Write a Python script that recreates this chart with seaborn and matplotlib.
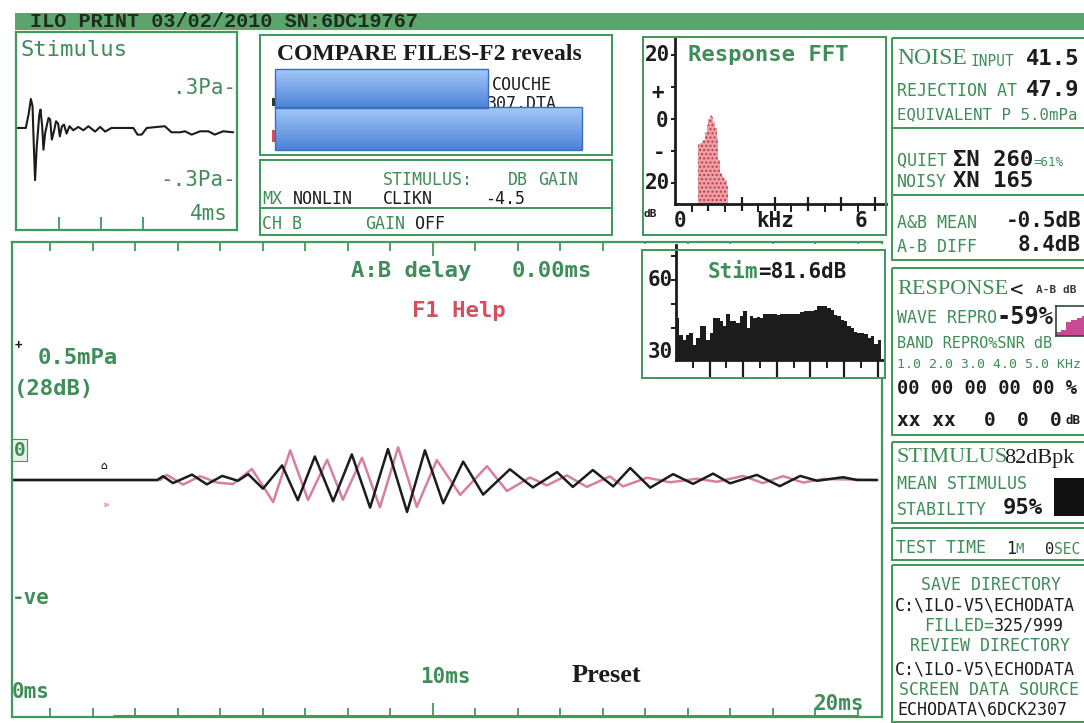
import matplotlib
matplotlib.use("Agg")
import matplotlib.pyplot as plt
import numpy as np
import pandas as pd
import seaborn as sns
from matplotlib.patches import Rectangle
from matplotlib.colors import LinearSegmentedColormap

# ---------------- data ----------------
# stimulus click waveform (ms, Pa)
stim_ms = [0.00, 0.21, 0.28, 0.33, 0.37, 0.39, 0.43, 0.47, 0.53, 0.56,
           0.60, 0.63, 0.67, 0.75, 0.79, 0.83, 0.88, 0.93, 0.98, 1.02,
           1.07, 1.12, 1.18, 1.25, 1.34, 1.46, 1.58, 1.70, 1.86, 1.98,
           2.10, 2.25, 2.77, 2.87, 2.97, 3.09, 3.52, 3.68, 3.88, 4.00,
           4.16, 4.36, 4.56, 4.71, 4.91, 5.15]
stim_pa = [0.0, 0.0, 0.10, 0.20, 0.15, -0.035, -0.36, -0.13, 0.09, 0.127,
           0.01, -0.15, -0.035, 0.069, 0.058, -0.08, -0.023, 0.046, 0.03, -0.058,
           0.012, 0.023, -0.039, 0.012, -0.016, 0.007, -0.016, 0.012, -0.025, 0.007,
           -0.025, 0.0, 0.0, -0.046, -0.046, 0.0, 0.012, -0.03, -0.03, -0.023,
           -0.046, -0.023, -0.023, -0.046, -0.023, -0.03]

# response waveform A (black) (ms, mPa)
resp_a_ms = [0.10, 3.51, 3.65, 3.88, 4.33, 4.68, 5.04, 5.41, 5.65, 6.00,
             6.45, 6.82, 7.22, 7.65, 8.09, 8.52, 8.94, 9.39, 9.81, 10.24,
             10.71, 11.18, 11.81, 12.35, 12.92, 13.29, 13.76, 14.24, 14.64, 15.11,
             15.65, 16.12, 16.59, 16.99, 17.62, 18.16, 18.64, 19.04, 19.65, 19.98,
             20.45]
resp_a_mpa = [0, 0, 0.015, -0.012, 0.021, -0.017, 0.016, -0.003, 0.023, -0.034,
              0.057, -0.079, 0.092, -0.083, 0.100, -0.108, 0.121, -0.125, 0.116, -0.091,
              0.072, -0.057, 0.042, -0.029, 0.031, -0.027, 0.039, -0.025, 0.047, -0.030,
              0.023, -0.015, 0.025, -0.013, 0.020, -0.024, 0.016, -0.003, 0.011, 0,
              0]

# response waveform B (pink) (ms, mPa)
resp_b_ms = [0.10, 3.58, 3.74, 4.12, 4.52, 4.92, 5.29, 5.74, 6.24, 6.64,
             7.06, 7.51, 7.88, 8.33, 8.75, 9.18, 9.62, 10.09, 10.64, 11.27,
             11.74, 12.28, 12.68, 13.15, 13.62, 14.16, 14.47, 15.04, 15.58, 16.21,
             16.68, 17.29, 17.76, 18.24, 18.71, 19.18, 20.45]
resp_b_mpa = [0, 0, 0.020, -0.018, 0.015, -0.010, -0.016, 0.043, -0.086, 0.116,
              -0.078, 0.079, -0.077, 0.087, -0.107, 0.128, -0.105, 0.078, -0.058, 0.054,
              -0.043, 0.010, -0.021, 0.018, -0.027, 0.014, -0.025, 0.009, -0.009, 0.005,
              -0.007, 0.016, -0.012, 0.015, -0.010, 0.004, 0]

# response FFT (bin left edge kHz, dB)
fft_khz = [0.70, 0.75, 0.80, 0.85, 0.90, 0.95, 1.00, 1.05, 1.10,
           1.15, 1.20, 1.25, 1.30, 1.35, 1.40, 1.45, 1.50, 1.55]
fft_db = [-8, -7.5, -7, -6.5, -4, -2, 0, 1.2, 0.5,
          -1, -3, -6, -13, -17, -18, -18.5, -19, -21]

# stimulus spectrum (bin left edge kHz, dB)
stimspec_khz = [0.0, 0.1, 0.2, 0.3, 0.4, 0.5, 0.6, 0.7, 0.8, 0.9,
                1.0, 1.1, 1.2, 1.3, 1.4, 1.5, 1.6, 1.7, 1.8, 1.9,
                2.0, 2.1, 2.2, 2.3, 2.4, 2.5, 2.6, 2.7, 2.8, 2.9,
                3.0, 3.1, 3.2, 3.3, 3.4, 3.5, 3.6, 3.7, 3.8, 3.9,
                4.0, 4.1, 4.2, 4.3, 4.4, 4.5, 4.6, 4.7, 4.8, 4.9,
                5.0, 5.1, 5.2, 5.3, 5.4, 5.5, 5.6, 5.7, 5.8, 5.9,
                6.0]
stimspec_db = [44, 37, 35, 37, 38, 33, 36, 41, 41, 35,
               38, 44, 44, 43, 41, 46, 43, 43, 42, 45,
               47, 40, 45, 44, 44.5, 44, 46, 46, 46, 46,
               45.5, 46, 46, 46, 46, 46, 46, 46.5, 47, 47,
               47, 47.5, 49, 49, 49, 48.5, 47.5, 45.5, 45, 43.5,
               43, 41, 40, 38.5, 38, 38, 37.5, 36, 36.5, 33.5,
               35]

# small wave-repro band chart
repro_band = [1, 2, 3, 4, 5, 6, 7]
repro_pct = [15, 21, 47, 53, 60, 68, 74]

# ---------------- styling ----------------
sns.set_theme(style="white")
plt.rcParams['font.family'] = ['DejaVu Sans Mono', 'DejaVu Sans']

GREEN = '#3f9a5c'
GTXT = '#3f8d58'
BLACK = '#1c1c1c'
PINK = '#d67fa3'
RED = '#d2505c'
MAG = '#c84a96'
MONO = ['DejaVu Sans Mono', 'DejaVu Sans']
SERIF = ['Liberation Serif', 'DejaVu Serif']
PT = 0.72  # points per pixel at 100 dpi

W, H = 1084, 723
fig = plt.figure(figsize=(W / 100, H / 100), dpi=100, facecolor='white')


def add_ax(x0, y0, x1, y1, z):
    ax = fig.add_axes([x0 / W, 1 - y1 / H, (x1 - x0) / W, (y1 - y0) / H])
    ax.set_zorder(z)
    return ax


def clean(ax):
    ax.set_xlabel('')
    ax.set_ylabel('')


# ---------------- main waveform panel ----------------
axm = add_ax(12, 242, 882, 717, 1)
df_a = pd.DataFrame({'ms': resp_a_ms, 'mPa': resp_a_mpa})
df_b = pd.DataFrame({'ms': resp_b_ms, 'mPa': resp_b_mpa})
sns.lineplot(data=df_b, x='ms', y='mPa', ax=axm, color=PINK, lw=1.8,
             estimator=None, sort=False, solid_joinstyle='round')
sns.lineplot(data=df_a, x='ms', y='mPa', ax=axm, color=BLACK, lw=1.8,
             estimator=None, sort=False, solid_joinstyle='round')
axm.set_xlim((12 - 8) / 42.5, (882 - 8) / 42.5)
axm.set_ylim(-0.926, 0.930)
clean(axm)
axm.set_yticks([])
axm.set_xticks([10])
axm.set_xticks([t for t in range(1, 21) if t != 10], minor=True)
axm.set_xticklabels([])
axm.tick_params(axis='x', which='both', direction='in', top=True, bottom=True,
                color=GREEN, width=1.3, labelbottom=False, labeltop=False)
axm.tick_params(axis='x', which='major', length=14 * PT)
axm.tick_params(axis='x', which='minor', length=9 * PT)
for s in axm.spines.values():
    s.set_color(GREEN)
    s.set_linewidth(1.6)

# ---------------- stimulus panel ----------------
axs = add_ax(16, 32, 237, 230, 1)
sns.lineplot(x=stim_ms, y=stim_pa, ax=axs, color=BLACK, lw=1.5,
             estimator=None, sort=False)
axs.set_xlim(-0.024, 5.24)
axs.set_ylim(-0.704, 0.662)
clean(axs)
axs.set_yticks([])
axs.set_xticks([1, 2, 3])
axs.set_xticklabels([])
axs.tick_params(axis='x', direction='in', length=13 * PT, width=1.3, color=GREEN,
                bottom=True, labelbottom=False)
for s in axs.spines.values():
    s.set_color(GREEN)
    s.set_linewidth(1.6)

# ---------------- response FFT ----------------
axf = add_ax(675, 37, 886, 204, 1)
axf.patch.set_alpha(0)
axf.bar(fft_khz, [d - (-26.6) for d in fft_db], bottom=-26.6, width=0.05,
        align='edge', color='#eba0a6', edgecolor='#c23a4b', hatch='....', lw=0)
axf.set_xlim(0, 6.34)
axf.set_ylim(-26.6, 25.6)
clean(axf)
axf.set_xticks([1, 2, 3, 4, 5, 6])
axf.set_xticks([0.5, 1.5, 2.5, 3.5, 4.5, 5.5], minor=True)
axf.set_yticks([-20, -10, 0, 10, 20])
axf.set_xticklabels([])
axf.set_yticklabels([])
axf.tick_params(axis='x', which='major', direction='inout', length=14 * PT, width=1.6,
                color=BLACK, bottom=True)
axf.tick_params(axis='x', which='minor', direction='out', length=8 * PT, width=1.4,
                color=BLACK, bottom=True)
axf.tick_params(axis='y', direction='out', length=4 * PT, width=1.4, color=BLACK, left=True)
for k in ['top', 'right']:
    axf.spines[k].set_visible(False)
for k in ['left', 'bottom']:
    axf.spines[k].set_color(BLACK)
    axf.spines[k].set_linewidth(2)

# ---------------- stimulus spectrum ----------------
axbg = add_ax(642, 244, 886, 378, 5)
axbg.set_facecolor('white')
axbg.set_xticks([])
axbg.set_yticks([])
for s in axbg.spines.values():
    s.set_visible(False)

axsp = add_ax(676, 245, 883, 360, 6)
axsp.patch.set_alpha(0)
axsp.bar(stimspec_khz, [d - 26.7 for d in stimspec_db], bottom=26.7, width=0.1,
         align='edge', color=BLACK, lw=0)
axsp.set_xlim(0, 6.16)
axsp.set_ylim(26.7, 74.6)
clean(axsp)
axsp.set_xticks([1, 2, 3, 4, 5, 6])
axsp.set_xticks([0.5, 1.5, 2.5, 3.5, 4.5, 5.5], minor=True)
axsp.set_yticks([40, 50, 60, 70])
axsp.set_xticklabels([])
axsp.set_yticklabels([])
axsp.tick_params(axis='x', which='major', direction='out', length=18 * PT, width=1.6,
                 color=BLACK, bottom=True)
axsp.tick_params(axis='x', which='minor', direction='out', length=8 * PT, width=1.4,
                 color=BLACK, bottom=True)
axsp.tick_params(axis='y', direction='out', length=5 * PT, width=1.4, color=BLACK, left=True)
for k in ['top', 'right']:
    axsp.spines[k].set_visible(False)
for k in ['left', 'bottom']:
    axsp.spines[k].set_color(BLACK)
    axsp.spines[k].set_linewidth(2)

# ---------------- mini wave-repro chart ----------------
axr = add_ax(1056, 306, 1092, 336, 1)
axr.bar(repro_band, repro_pct, width=1.0, align='edge', color=MAG, lw=0)
axr.set_xlim(1, 8)
axr.set_ylim(0, 100)
clean(axr)
axr.set_xticks([])
axr.set_yticks([])
for s in axr.spines.values():
    s.set_color('#2e4a36')
    s.set_linewidth(1.2)

# ---------------- overlay: frames and texts ----------------
ov = add_ax(0, 0, W, H, 20)
ov.patch.set_alpha(0)
ov.axis('off')


def box(x0, y0, x1, y1, lw=2.0, color=GREEN, z=2):
    ov.add_patch(Rectangle((x0, y0), x1 - x0, y1 - y0, fill=False, ec=color,
                           lw=lw * PT, zorder=z))


def hline(x0, x1, y, lw=2.0, color=GREEN):
    ov.plot([x0, x1], [y, y], color=color, lw=lw * PT, solid_capstyle='butt', zorder=2)


def T(x, y, s, color=GTXT, size=12, weight='normal', family=MONO, ha='left',
      va='center', z=5, **kw):
    ov.text(x, y, s, color=color, fontsize=size, fontweight=weight, fontfamily=family,
            ha=ha, va=va, zorder=z, **kw)


# header bar
ov.add_patch(Rectangle((15, 13), 1090 - 15, 17, fc='#5ba56c', ec='none', zorder=1))
T(30, 21.5, 'ILO PRINT 03/02/2010 SN:6DC19767', color='#1e2b1f', size=14.5,
  weight='bold', family=['Liberation Mono', 'DejaVu Sans Mono'])

# stimulus panel texts
T(21, 50, 'Stimulus', size=16)
T(236, 88, '.3Pa-', size=15, ha='right')
T(236, 180, '-.3Pa-', size=15, ha='right')
T(228, 214, '4ms', size=15, ha='right')

# compare files panel
box(260, 35, 612, 155)
T(277, 55, 'COMPARE FILES-F2 reveals', color=BLACK, size=17, weight='bold', family=SERIF)
T(492, 85, 'COUCHE', color=BLACK, size=12)
T(487, 104, '307.DTA', color=BLACK, size=12, z=3)
ov.add_patch(Rectangle((272, 98), 3, 8, fc='#333333', ec='none', zorder=3))
ov.add_patch(Rectangle((272, 130), 3, 12, fc='#d05060', ec='none', zorder=3))
cmap_blue = LinearSegmentedColormap.from_list('bl', ['#a3c8f8', '#4c82d8'])
grad = np.linspace(0, 1, 64).reshape(-1, 1)
for (bx0, by0, bx1, by1) in [(275, 69, 488, 108), (275, 107, 582, 150)]:
    ov.imshow(grad, extent=(bx0, bx1, by1, by0), cmap=cmap_blue, aspect='auto',
              origin='upper', zorder=4, interpolation='bilinear')
    ov.add_patch(Rectangle((bx0, by0), bx1 - bx0, by1 - by0, fill=False,
                           ec='#3a6cc2', lw=1.0, zorder=4.5))

# stimulus settings panel
box(260, 160, 612, 235)
hline(260, 612, 208)
T(383, 180, 'STIMULUS:', size=12)
T(508, 180, 'DB', size=12)
T(538, 180, 'GAIN', size=12)
T(262, 199, 'MX', size=12)
T(293, 199, 'NONLIN', color=BLACK, size=12)
T(383, 199, 'CLIKN', color=BLACK, size=12)
T(485, 199, '-4.5', color=BLACK, size=12)
T(262, 224, 'CH B', size=12)
T(365, 224, 'GAIN', size=12)
T(415, 224, 'OFF', color=BLACK, size=12)

# response FFT panel
box(643, 37, 886, 235)
T(688, 55, 'Response FFT', size=16, weight='bold')
T(658, 55, '20', color=BLACK, size=15, weight='bold', ha='center')
T(658, 93, '+', color=BLACK, size=15, weight='bold', ha='center')
T(662, 121, '0', color=BLACK, size=15, weight='bold', ha='center')
T(659, 153, '-', color=BLACK, size=15, weight='bold', ha='center')
T(658, 183, '20', color=BLACK, size=15, weight='bold', ha='center')
T(650, 214, 'dB', color=BLACK, size=8, weight='bold', ha='center')
T(680, 221, '0', color=BLACK, size=15, weight='bold', ha='center')
T(775, 221, 'kHz', color=BLACK, size=15, weight='bold', ha='center')
T(861, 221, '6', color=BLACK, size=15, weight='bold', ha='center')

# stimulus spectrum panel
box(642, 250, 885, 378, z=21)
T(660, 280, '60', color=BLACK, size=15, weight='bold', ha='center', z=22)
T(660, 352, '30', color=BLACK, size=15, weight='bold', ha='center', z=22)
T(708, 272, 'Stim', size=15, weight='bold', z=22)
T(758, 272, '=81.6dB', color=BLACK, size=15, weight='bold', z=22)

# main panel texts
T(351, 271, 'A:B delay', size=16, weight='bold')
T(512, 271, '0.00ms', size=16, weight='bold')
T(412, 311, 'F1 Help', color=RED, size=16, weight='bold')
T(15, 346, '+', color=BLACK, size=9, weight='bold')
T(38, 358, '0.5mPa', size=16, weight='bold')
T(14, 389, '(28dB)', size=16, weight='bold')
T(14, 450, '0', size=14, weight='bold',
  bbox=dict(boxstyle='square,pad=0.08', fc='#e6f2e9', ec=GREEN, lw=0.8))
T(104, 466, '⌂', color=BLACK, size=8, weight='bold', ha='center')
T(106, 505, '»', color=PINK, size=8, weight='bold', ha='center')
T(12, 598, '-ve', size=15, weight='bold')
T(12, 692, '0ms', size=15, weight='bold')
T(420, 677, '10ms', size=15, weight='bold')
T(572, 675, 'Preset', color=BLACK, size=19, weight='bold', family=SERIF)
T(814, 704, '20ms', size=15, weight='bold')
hline(113, 858, 716, lw=3.0)

# right column frames
box(892, 38, 1095, 260)
hline(892, 1095, 128)
hline(892, 1095, 195)
box(892, 268, 1095, 435)
box(892, 442, 1095, 523)
box(892, 528, 1095, 560)
box(892, 565, 1095, 722)

# noise section
T(897, 58, 'NOISE', size=17, family=SERIF)
T(971, 62, 'INPUT', size=10.5)
T(1026, 59, '41.5', color=BLACK, size=16, weight='bold')
T(897, 91, 'REJECTION AT', size=12)
T(1026, 90, '47.9', color=BLACK, size=16, weight='bold')
T(897, 115, 'EQUIVALENT P 5.0mPa', size=11.3)
T(897, 161, 'QUIET', size=12)
T(953, 160, 'ΣN 260', color=BLACK, size=16, weight='bold')
T(1033, 162, '=61%', size=9)
T(897, 182, 'NOISY', size=12)
T(953, 181, 'XN 165', color=BLACK, size=16, weight='bold')
T(897, 223, 'A&B MEAN', size=12)
T(1006, 221, '-0.5dB', color=BLACK, size=15, weight='bold')
T(897, 247, 'A-B DIFF', size=12)
T(1018, 245, '8.4dB', color=BLACK, size=15, weight='bold')

# response section
T(897, 290, 'RESPONSE', size=16, family=SERIF)
T(1010, 290, '<', color=BLACK, size=16)
T(1036, 290, 'A-B dB', color='#3a3a3a', size=8, weight='bold')
T(897, 318, 'WAVE REPRO', size=12)
T(996, 317, '-59%', color=BLACK, size=17, weight='bold')
T(897, 343, 'BAND REPRO%SNR dB', size=11)
T(897, 365, '1.0 2.0 3.0 4.0 5.0 KHz', size=9.5)
T(897, 389, '00 00 00 00 00 %', color=BLACK, size=13.5, weight='bold')
T(897, 421, 'xx xx', color=BLACK, size=14, weight='bold')
T(984, 421, '0', color=BLACK, size=14, weight='bold')
T(1017, 421, '0', color=BLACK, size=14, weight='bold')
T(1050, 421, '0', color=BLACK, size=14, weight='bold')
T(1066, 421, 'dB', color=BLACK, size=9, weight='bold')

# stimulus section
T(896, 458, 'STIMULUS', size=16, family=SERIF)
T(1004, 458, '82dBpk', color=BLACK, size=16, family=SERIF)
T(897, 484, 'MEAN STIMULUS', size=12)
T(897, 510, 'STABILITY', size=12)
T(1003, 508, '95%', color=BLACK, size=16, weight='bold')
ov.add_patch(Rectangle((1054, 478), 40, 38, fc='#111111', ec='none', zorder=3))

# test time
T(896, 548, 'TEST TIME', size=12)
T(1006, 549, '1', color=BLACK, size=12)
T(1015, 549, 'M', size=10)
T(1045, 549, '0', color=BLACK, size=11)
T(1054, 549, 'SEC', size=10.5)

# directories
T(991, 585, 'SAVE DIRECTORY', size=12, ha='center')
T(985, 605, 'C:\\ILO-V5\\ECHODATA', color=BLACK, size=12, ha='center')
T(994, 626, 'FILLED=', size=12, ha='right')
T(994, 626, '325/999', color=BLACK, size=12, ha='left')
T(990, 646, 'REVIEW DIRECTORY', size=12, ha='center')
T(985, 669, 'C:\\ILO-V5\\ECHODATA', color=BLACK, size=12, ha='center')
T(989, 690, 'SCREEN DATA SOURCE', size=12, ha='center')
T(982, 710, 'ECHODATA\\6DCK2307', color=BLACK, size=12, ha='center')

ov.set_xlim(0, W)
ov.set_ylim(H, 0)

fig.savefig('out.png', dpi=100, facecolor='white')
